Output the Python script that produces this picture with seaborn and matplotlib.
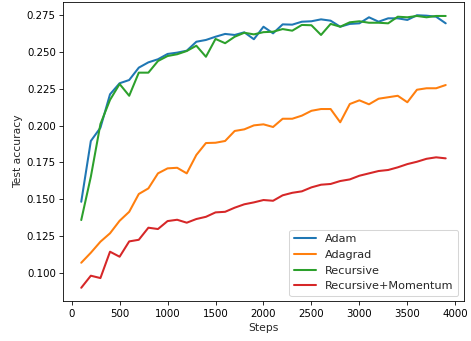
import numpy as np
import pandas as pd
import matplotlib
matplotlib.use("Agg")
import matplotlib.pyplot as plt
import seaborn as sns

steps = list(range(100, 4000, 100))

adam = [0.1482, 0.1895, 0.1985, 0.2212, 0.2287, 0.2309, 0.2393, 0.2429, 0.2450, 0.2486,
        0.2495, 0.2508, 0.2569, 0.2581, 0.2603, 0.2622, 0.2615, 0.2633, 0.2586, 0.2671,
        0.2626, 0.2687, 0.2685, 0.2705, 0.2708, 0.2721, 0.2712, 0.2671, 0.2690, 0.2694,
        0.2735, 0.2705, 0.2728, 0.2728, 0.2717, 0.2749, 0.2746, 0.2739, 0.2694]

adagrad = [0.1068, 0.1136, 0.1211, 0.1268, 0.1353, 0.1414, 0.1535, 0.1573, 0.1675, 0.1709,
           0.1713, 0.1675, 0.1800, 0.1881, 0.1883, 0.1895, 0.1963, 0.1974, 0.2001, 0.2008,
           0.1990, 0.2046, 0.2046, 0.2067, 0.2100, 0.2112, 0.2112, 0.2022, 0.2146, 0.2171,
           0.2144, 0.2182, 0.2192, 0.2202, 0.2158, 0.2243, 0.2253, 0.2253, 0.2275]

recursive = [0.1358, 0.1652, 0.2010, 0.2174, 0.2282, 0.2202, 0.2359, 0.2359, 0.2438, 0.2472,
             0.2484, 0.2506, 0.2542, 0.2467, 0.2588, 0.2559, 0.2603, 0.2630, 0.2619, 0.2634,
             0.2637, 0.2655, 0.2644, 0.2683, 0.2681, 0.2615, 0.2690, 0.2671, 0.2701, 0.2708,
             0.2698, 0.2698, 0.2694, 0.2739, 0.2735, 0.2744, 0.2735, 0.2744, 0.2744]

recursive_momentum = [0.0898, 0.0980, 0.0964, 0.1143, 0.1109, 0.1213, 0.1224, 0.1306, 0.1297, 0.1351,
                      0.1360, 0.1340, 0.1365, 0.1380, 0.1410, 0.1414, 0.1442, 0.1465, 0.1478, 0.1494,
                      0.1489, 0.1526, 0.1543, 0.1553, 0.1580, 0.1598, 0.1603, 0.1623, 0.1634, 0.1659,
                      0.1675, 0.1691, 0.1698, 0.1716, 0.1738, 0.1754, 0.1774, 0.1784, 0.1777]

series_names = ["Adam", "Adagrad", "Recursive", "Recursive+Momentum"]
series_values = [adam, adagrad, recursive, recursive_momentum]

frames = []
for name, vals in zip(series_names, series_values):
    frames.append(pd.DataFrame({"Steps": steps, "Test accuracy": vals, "method": name}))
df = pd.concat(frames, ignore_index=True)

sns.set_style("ticks")
plt.rcParams["font.family"] = ["DejaVu Sans"]

DPI = 73.6
fig = plt.figure(figsize=(471 / DPI, 341 / DPI), dpi=DPI)
ax = fig.add_axes([0.1338, 0.1161, 0.8512, 0.8792])

palette = ["#1f77b4", "#ff7f0e", "#2ca02c", "#d62728"]
sns.lineplot(data=df, x="Steps", y="Test accuracy", hue="method",
             hue_order=series_names, palette=palette, linewidth=2.0, ax=ax)

ax.set_xticks([0, 500, 1000, 1500, 2000, 2500, 3000, 3500, 4000])
ax.set_yticks([0.100, 0.125, 0.150, 0.175, 0.200, 0.225, 0.250, 0.275])
ax.tick_params(labelsize=10, length=3.5, width=0.8, colors="black")
ax.set_xlabel("Steps", fontsize=10.5)
ax.set_ylabel("Test accuracy", fontsize=10.5)
for s in ax.spines.values():
    s.set_color("black")
    s.set_linewidth(0.8)

leg = ax.legend(loc="lower right", fontsize=11, title=None)
for line in leg.get_lines():
    line.set_linewidth(2.0)

fig.savefig("out.png", dpi=DPI)
